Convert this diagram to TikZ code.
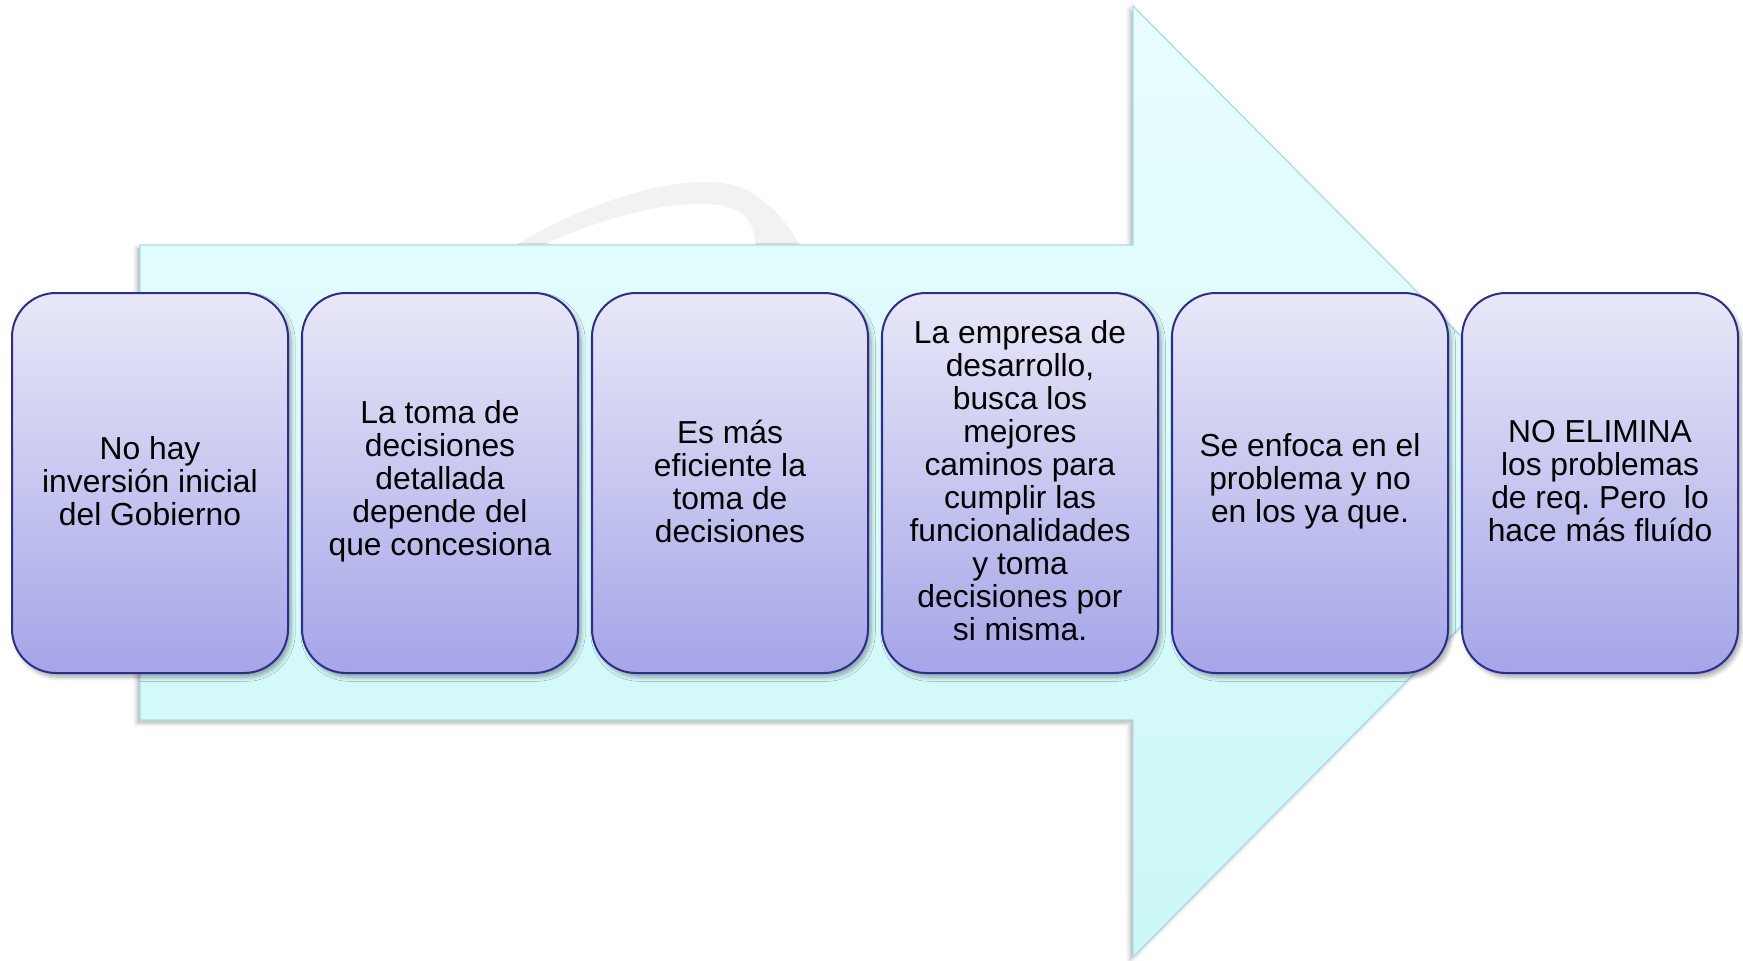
\documentclass[tikz,border=0pt]{standalone}
\usepackage{fontspec}
\setmainfont{Liberation Sans}
\usetikzlibrary{shadows.blur}
\frenchspacing
\definecolor{boxtop}{RGB}{232,232,248}
\definecolor{boxbot}{RGB}{165,165,232}
\definecolor{boxline}{RGB}{45,45,145}
\definecolor{arrtop}{RGB}{232,253,253}
\definecolor{arrbot}{RGB}{204,248,248}
\definecolor{arrline}{RGB}{170,222,225}
\definecolor{swoosh}{RGB}{242,242,242}
\begin{document}
\begin{tikzpicture}[x=0.5pt,y=-0.5pt,
  stepbox/.style={draw=boxline, line width=1pt, rounded corners=22pt,
    minimum width=138pt, minimum height=190pt, inner sep=0pt,
    top color=boxtop, bottom color=boxbot,
    blur shadow={shadow xshift=1.5pt, shadow yshift=-2pt, shadow blur steps=6, shadow opacity=35}},
  steptext/.style={align=center, font=\fontsize{15.9}{16.5}\selectfont, text=black, inner sep=0pt},
  bigarrow/.style={draw=arrline, line width=0.7pt, top color=arrtop, bottom color=arrbot,
    blur shadow={shadow xshift=-1.5pt, shadow yshift=-1.5pt, shadow blur steps=5, shadow opacity=30}}]
\useasboundingbox (0,0) rectangle (1743,960);
% grey swoosh behind the arrow
\fill[swoosh] (512,247) .. controls (590,200) and (690,168) .. (742,188)
  .. controls (772,202) and (792,228) .. (800,247) -- (756,247)
  .. controls (754,228) and (750,212) .. (725,206)
  .. controls (680,197) and (600,217) .. (540,247) -- cycle;
% big arrow
\path[bigarrow] (140,245) -- (1133,245) -- (1133,6) -- (1605,481) -- (1133,957)
  -- (1133,720) -- (140,720) -- cycle;
% boxes
\foreach \i/\x in {1/150,2/440,3/730,4/1020,5/1310,6/1600}
  \node[stepbox] (b\i) at (\x,483) {};
\node[steptext] (t1) at (150,481) {No hay\\inversión inicial\\del Gobierno};
\node[steptext] (t2) at (440,481) {La toma de\\decisiones\\detallada\\depende del\\que concesiona};
\node[steptext] (t3) at (730,481) {Es más\\eficiente la\\toma de\\decisiones};
\node[steptext] (t4) at (1020,481) {La empresa de\\desarrollo,\\busca los\\mejores\\caminos para\\cumplir las\\funcionalidades\\y toma\\decisiones por\\si misma.};
\node[steptext] (t5) at (1310,481) {Se enfoca en el\\problema y no\\en los ya que.};
\node[steptext] (t6) at (1600,481) {NO ELIMINA\\los problemas\\de req. Pero\ \ lo\\hace más fluído};
\end{tikzpicture}
\end{document}
